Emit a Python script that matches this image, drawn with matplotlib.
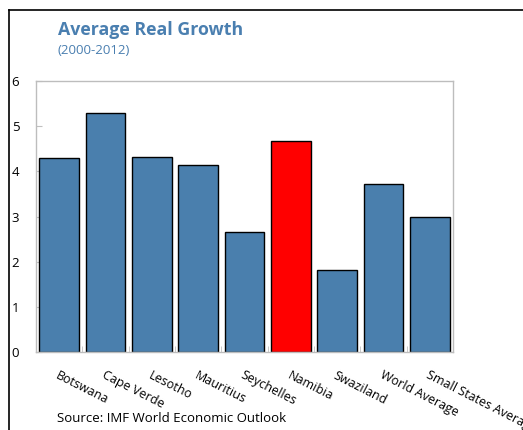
import matplotlib
matplotlib.use("Agg")
import matplotlib.pyplot as plt
from matplotlib.lines import Line2D

categories = ["Botswana", "Cape Verde", "Lesotho", "Mauritius", "Seychelles",
              "Namibia", "Swaziland", "World Average", "Small States Average"]
values = [4.29, 5.30, 4.31, 4.14, 2.65, 4.67, 1.81, 3.72, 3.00]
highlight = "Namibia"
yticks = [0, 1, 2, 3, 4, 5, 6]

plt.rcParams['font.family'] = ['Open Sans', 'DejaVu Sans']

W, H = 523, 430
fig = plt.figure(figsize=(W / 100, H / 100), dpi=100)
ax = fig.add_axes([36 / W, 1 - 352 / H, (453 - 36) / W, (352 - 81) / H])

colors = ["#ff0000" if c == highlight else "#4a7fad" for c in categories]
x = list(range(len(categories)))
ax.bar(x, values, width=0.86, color=colors, edgecolor="black", linewidth=1.0, zorder=2)

ax.set_xlim(-0.5, len(categories) - 0.5)
ax.set_ylim(0, 6)
ax.set_yticks(yticks)
ax.set_yticklabels([str(t) for t in yticks], fontsize=9.5)
ax.tick_params(axis='y', direction='in', length=4, color="#c0c0c0", pad=12)

ax.set_xticks(x)
ax.set_xticklabels(categories, rotation=-27, ha='left', va='top',
                   rotation_mode='anchor', fontsize=9)
ax.tick_params(axis='x', length=0, pad=12)
ax.set_xticks([i + 0.5 for i in x[:-1]], minor=True)
ax.tick_params(axis='x', which='minor', direction='in', length=4, color="#c0c0c0")

for s in ax.spines.values():
    s.set_color("#bdbdbd")
    s.set_linewidth(1.0)

# frame lines
fig.add_artist(Line2D([9 / W, 9 / W], [0, 1 - 10 / H], color="black", lw=1.2,
                      transform=fig.transFigure))
fig.add_artist(Line2D([9 / W, 1], [1 - 10 / H, 1 - 10 / H], color="black", lw=1.2,
                      transform=fig.transFigure))

fig.text(58 / W, 1 - 30 / H, "Average Real Growth", fontsize=12.8, fontweight='bold',
         color="#4a7fb0", va='center', ha='left')
fig.text(58 / W, 1 - 50 / H, "(2000-2012)", fontsize=9.5, color="#4a7fb0",
         va='center', ha='left')
fig.text(57 / W, 1 - 418 / H, "Source: IMF World Economic Outlook", fontsize=9.5,
         color="black", va='center', ha='left')

fig.savefig("out.png", dpi=100)
